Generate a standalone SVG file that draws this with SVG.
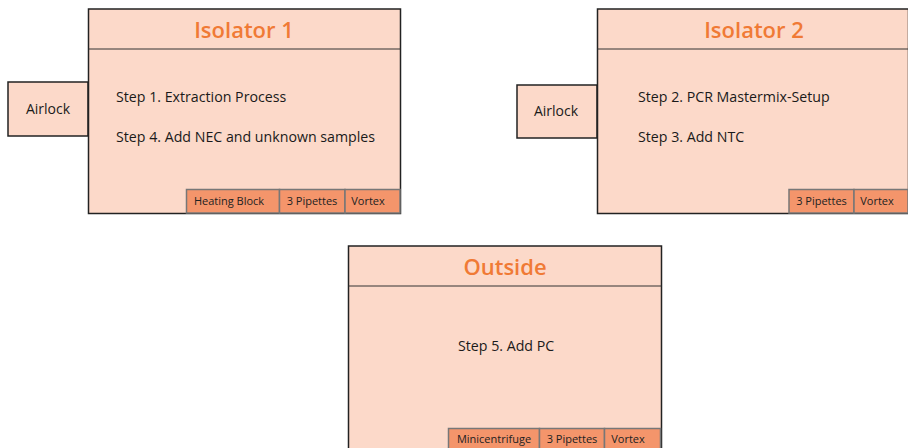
<svg xmlns="http://www.w3.org/2000/svg" width="908" height="448" viewBox="0 0 908 448">
<style>
.box{fill:#fcd9c9;stroke:#222;stroke-width:1.5}
.hdr{stroke:#333;stroke-width:1}
.eq{fill:#f4956b;stroke:#777;stroke-width:1.5}
.title{font-family:"Open Sans","Liberation Sans",sans-serif;font-size:22px;fill:#f07a35;text-anchor:middle;font-weight:600}
.step{font-family:"Open Sans","Liberation Sans",sans-serif;font-size:14.2px;fill:#1a1a1a}
.lbl{font-family:"Open Sans","Liberation Sans",sans-serif;font-size:14px;fill:#1a1a1a;text-anchor:middle}
.eqt{font-family:"Open Sans","Liberation Sans",sans-serif;font-size:11px;fill:#222;text-anchor:middle}
</style>
<rect width="908" height="448" fill="#fff"/>
<g id="airlock1">
<rect class="box" x="8" y="82" width="80" height="54"/>
<text class="lbl" x="48" y="114">Airlock</text>
</g>
<g id="isolator1">
<rect class="box" x="88.5" y="9" width="312" height="204.5"/>
<line class="hdr" x1="88.5" y1="49" x2="400.5" y2="49"/>
<text class="title" x="244" y="38">Isolator 1</text>
<text class="step" x="116" y="102">Step 1. Extraction Process</text>
<text class="step" x="116" y="142">Step 4. Add NEC and unknown samples</text>
<rect class="eq" x="186.5" y="189.5" width="93" height="23.5"/>
<rect class="eq" x="279.5" y="189.5" width="65.5" height="23.5"/>
<rect class="eq" x="345" y="189.5" width="55" height="23.5"/>
<text class="eqt" x="229" y="205">Heating Block</text>
<text class="eqt" x="312" y="205">3 Pipettes</text>
<text class="eqt" x="368" y="205">Vortex</text>
</g>
<g id="airlock2">
<rect class="box" x="517" y="85" width="80" height="53"/>
<text class="lbl" x="556" y="116">Airlock</text>
</g>
<g id="isolator2">
<rect class="box" x="597.5" y="9" width="311" height="204.5"/>
<line class="hdr" x1="597.5" y1="49" x2="908" y2="49"/>
<text class="title" x="754" y="38">Isolator 2</text>
<text class="step" x="638" y="102">Step 2. PCR Mastermix-Setup</text>
<text class="step" x="638" y="142">Step 3. Add NTC</text>
<rect class="eq" x="789" y="189.5" width="65" height="23.5"/>
<rect class="eq" x="854" y="189.5" width="54" height="23.5"/>
<text class="eqt" x="821.5" y="205">3 Pipettes</text>
<text class="eqt" x="877" y="205">Vortex</text>
</g>
<g id="outside">
<rect class="box" x="348.5" y="246" width="313" height="210"/>
<line class="hdr" x1="348.5" y1="286" x2="661.5" y2="286"/>
<text class="title" x="505" y="275">Outside</text>
<text class="step" x="458" y="351">Step 5. Add PC</text>
<rect class="eq" x="448.5" y="428.5" width="91" height="24"/>
<rect class="eq" x="539.5" y="428.5" width="65" height="24"/>
<rect class="eq" x="604.5" y="428.5" width="56" height="24"/>
<text class="eqt" x="494" y="443">Minicentrifuge</text>
<text class="eqt" x="572" y="443">3 Pipettes</text>
<text class="eqt" x="628" y="443">Vortex</text>
</g>
<g id="connectors"></g>
</svg>
